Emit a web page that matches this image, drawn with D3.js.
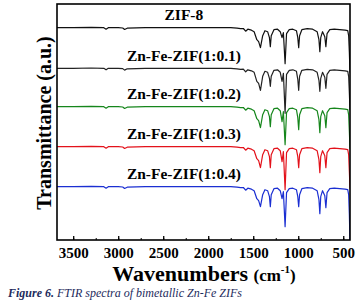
<!DOCTYPE html>
<html>
<head>
<meta charset="utf-8">
<script src="https://cdn.jsdelivr.net/npm/d3@7"></script>
<style>
  body { margin: 0; background: #fff; }
  svg text { font-family: "Liberation Serif", "Times New Roman", serif; }
</style>
</head>
<body>
<svg id="chart" width="358" height="306"></svg>
<script>
// wavenumber grid (cm-1), shared by all spectra
var wavenumbers = [3680, 3500, 3300, 3160, 3135, 3110, 3000, 2950, 2929, 2900, 2700, 2400, 2100, 1900, 1750,
  1680, 1640, 1610, 1584, 1560, 1520, 1490, 1460, 1440, 1420,
  1395, 1370, 1340, 1320, 1310, 1300, 1270, 1230, 1200, 1180, 1165, 1146,
  1130, 1100, 1060, 1020, 1005, 995, 985, 960, 900, 840, 790, 770, 760,
  750, 730, 705, 693, 680, 650, 600, 540, 480, 450, 440, 432, 425];

// transmittance relative to each spectrum's own baseline (a.u.)
var zif8 = [0, 0, 0.3, 0, -1.5, 0, 0, -0.3, -1.8, -0.5, 0, 0, 0, 0, 0,
  -0.5, -1, -0.8, -3.5, -1.5, -2.5, -4, -12, -14, -20,
  -8, -3, -4, -10, -19, -8, -2, -1.5, -4, -10, -5, -36,
  -6, -2, -1.5, -3, -10, -20, -8, -2, -1, -1.5, -4, -12, -24,
  -10, -4, -9, -19, -6, -2, -1.5, -2, -2.5, -3, -8, -25, -45];
var znfe01 = [0, 0, 0.3, 0, -1.5, 0, 0, -0.3, -1.8, -0.5, 0, 0, 0, 0, 0,
  -0.5, -1, -0.8, -3.5, -1.5, -2.5, -4, -13, -15, -22,
  -8, -3, -4, -10, -18, -8, -2, -1.5, -4, -13, -5, -45,
  -6, -2, -1.5, -3, -11, -22, -8, -2, -1, -1.5, -4, -12, -23,
  -10, -4, -9, -20, -6, -2, -1.5, -2, -2.5, -3, -8, -25, -42];
var znfe02 = [0, 0, 0.3, 0, -1.5, 0, 0, -0.3, -1.8, -0.5, 0, 0, 0, 0, 0,
  -0.5, -1, -0.8, -3.5, -1.5, -2.5, -4, -12, -14, -21,
  -8, -3, -4, -10, -20, -8, -2, -1.5, -4, -15, -5, -38,
  -6, -2, -1.5, -3, -11, -23, -8, -2, -1, -1.5, -4, -13, -26,
  -10, -4, -9, -21, -6, -2, -1.5, -2, -2.5, -3, -8, -25, -42];
var znfe03 = [0, 0, 0.3, 0, -1.5, 0, 0, -0.3, -1.8, -0.5, 0, 0, 0, 0, 0,
  -0.5, -1, -0.8, -3.5, -1.5, -2.5, -4, -12, -14, -21,
  -8, -3, -4, -10, -21, -8, -2, -1.5, -4, -15, -5, -43,
  -6, -2, -1.5, -3, -10, -21, -8, -2, -1, -1.5, -4, -13, -26,
  -10, -4, -9, -21, -6, -2, -1.5, -2, -2.5, -3, -8, -25, -42];
var znfe04 = [0, 0, 0.3, 0, -1.5, 0, 0, -0.3, -1.8, -0.5, 0, 0, 0, 0, 0,
  -0.5, -1, -0.8, -3.5, -1.5, -2.5, -4, -12, -14, -20,
  -8, -3, -4, -10, -20, -8, -2, -1.5, -4, -12, -5, -40,
  -6, -2, -1.5, -3, -10, -20, -8, -2, -1, -1.5, -4, -13, -27,
  -10, -4, -9, -21, -6, -2, -1.5, -2, -2.5, -3, -8, -28, -56];

var seriesNames = ["ZIF-8", "Zn-Fe-ZIF(1:0.1)", "Zn-Fe-ZIF(1:0.2)", "Zn-Fe-ZIF(1:0.3)", "Zn-Fe-ZIF(1:0.4)"];
var seriesValues = [zif8, znfe01, znfe02, znfe03, znfe04];
var offsets = [212.3, 171.7, 133.3, 93.3, 53.3];   // vertical stacking (a.u.)
var colors = ["#111111", "#222222", "#16861c", "#e3121b", "#1b2fd2"];
var majorTicks = [3500, 3000, 2500, 2000, 1500, 1000, 500];

function drawChart() {
  var svg = d3.select("#chart");
  var pLeft = 57, pRight = 350, pTop = 4, pBottom = 240;

  var x = d3.scaleLinear().domain([3680, 425]).range([pLeft, pRight]);
  var y = d3.scaleLinear().domain([0, 236]).range([pBottom, pTop]);

  svg.append("defs").append("clipPath").attr("id", "plotclip")
    .append("rect").attr("x", pLeft).attr("y", pTop)
    .attr("width", pRight - pLeft).attr("height", pBottom - pTop);

  var line = d3.line()
    .x(function(d) { return x(d[0]); })
    .y(function(d) { return y(d[1]); });

  var plot = svg.append("g").attr("clip-path", "url(#plotclip)");
  seriesValues.forEach(function(vals, i) {
    var pts = wavenumbers.map(function(w, j) { return [w, offsets[i] + vals[j]]; });
    plot.append("path")
      .attr("d", line(pts))
      .attr("fill", "none")
      .attr("stroke", colors[i])
      .attr("stroke-width", 1.2)
      .attr("stroke-linejoin", "round");
  });

  // labels above each trace
  seriesNames.forEach(function(name, i) {
    svg.append("text")
      .attr("x", x(2270))
      .attr("y", y(offsets[i] + 7.5))
      .attr("text-anchor", "middle")
      .attr("font-size", "15.5px")
      .attr("font-weight", "bold")
      .text(name);
  });

  // bottom axis, ticks pointing inward
  var xAxis = d3.axisBottom(x).tickValues(majorTicks).tickSize(-4).tickPadding(7)
    .tickFormat(d3.format("d"));
  var gx = svg.append("g").attr("transform", "translate(0," + pBottom + ")").call(xAxis);
  gx.select(".domain").remove();
  gx.selectAll("line").attr("stroke", "#000").attr("stroke-width", 1.3);
  gx.selectAll("text").attr("font-size", "15px").attr("font-weight", "bold")
    .attr("font-family", "Liberation Serif, serif").attr("fill", "#000");

  var minor = d3.axisBottom(x).tickValues(d3.range(3500, 400, -250)).tickSize(-2).tickFormat("");
  var gm = svg.append("g").attr("transform", "translate(0," + pBottom + ")").call(minor);
  gm.select(".domain").remove();
  gm.selectAll("line").attr("stroke", "#000").attr("stroke-width", 1);

  // frame
  svg.append("rect")
    .attr("x", pLeft).attr("y", pTop)
    .attr("width", pRight - pLeft).attr("height", pBottom - pTop)
    .attr("fill", "none").attr("stroke", "#000").attr("stroke-width", 1.6);

  // axis titles
  var xt = svg.append("text")
    .attr("x", 204).attr("y", 281)
    .attr("text-anchor", "middle")
    .attr("font-weight", "bold");
  xt.append("tspan").attr("font-size", "22px").text("Wavenumbers ");
  xt.append("tspan").attr("font-size", "17px").text("(cm");
  xt.append("tspan").attr("font-size", "11px").attr("dy", "-8").text("-1");
  xt.append("tspan").attr("font-size", "17px").attr("dy", "8").text(")");

  svg.append("text")
    .attr("transform", "translate(51,123) rotate(-90)")
    .attr("text-anchor", "middle")
    .attr("font-size", "20px")
    .attr("font-weight", "bold")
    .text("Transmittance (a.u.)");

  // caption
  var cap = svg.append("text")
    .attr("x", 8).attr("y", 297)
    .attr("font-size", "12px")
    .attr("font-style", "italic")
    .attr("fill", "#1d2b5c");
  cap.append("tspan").attr("font-weight", "bold").text("Figure 6.");
  cap.append("tspan").text(" FTIR spectra of bimetallic Zn-Fe ZIFs");
}

drawChart();
</script>
</body>
</html>
